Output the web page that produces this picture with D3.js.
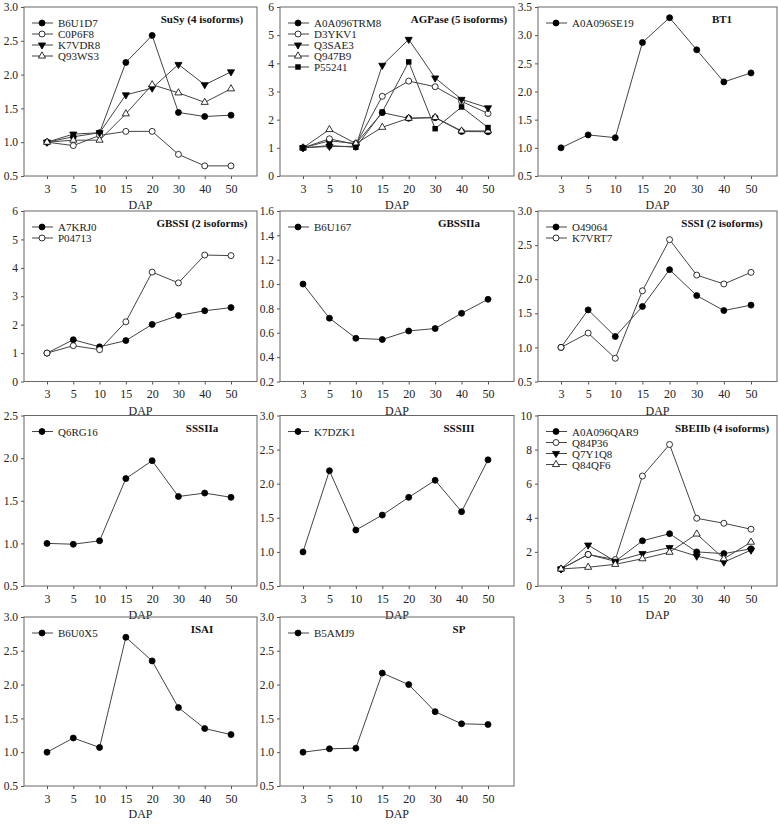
<!DOCTYPE html>
<html>
<head>
<meta charset="utf-8">
<script src="https://cdn.jsdelivr.net/npm/d3@7"></script>
<style>
    body { margin: 0; background: #fff; }
    text { font-family: "Liberation Serif", "Times New Roman", serif; }
</style>
</head>
<body>
<script>
// Days after pollination, shared x categories for every panel
var days = ["3", "5", "10", "15", "20", "30", "40", "50"];

// SuSy
var B6U1D7 = [1.0, 1.08, 1.14, 2.18, 2.58, 1.44, 1.38, 1.40];
var C0P6F8 = [1.0, 0.95, 1.10, 1.16, 1.16, 0.82, 0.65, 0.65];
var K7VDR8 = [1.0, 1.12, 1.14, 1.70, 1.80, 2.15, 1.85, 2.04];
var Q93WS3 = [1.0, 1.03, 1.03, 1.42, 1.85, 1.73, 1.59, 1.79];
// AGPase
var A0A096TRM8 = [1.0, 1.25, 1.15, 2.25, 2.05, 2.07, 1.58, 1.57];
var D3YKV1 = [1.0, 1.32, 1.12, 2.83, 3.37, 3.17, 2.65, 2.22];
var Q3SAE3 = [1.0, 1.05, 1.05, 3.93, 4.85, 3.48, 2.72, 2.42];
var Q947B9 = [1.0, 1.65, 1.15, 1.73, 2.05, 2.08, 1.60, 1.60];
var P55241 = [1.0, 1.08, 1.02, 2.27, 4.05, 1.68, 2.45, 1.72];
// BT1
var A0A096SE19 = [1.0, 1.23, 1.18, 2.87, 3.31, 2.74, 2.17, 2.33];
// GBSSI
var A7KRJ0 = [1.0, 1.47, 1.22, 1.44, 2.01, 2.32, 2.49, 2.60];
var P04713 = [1.0, 1.26, 1.12, 2.10, 3.85, 3.47, 4.45, 4.43];
// GBSSIIa
var B6U167 = [1.0, 0.72, 0.555, 0.545, 0.615, 0.635, 0.76, 0.875];
// SSSI
var O49064 = [1.0, 1.55, 1.16, 1.60, 2.14, 1.76, 1.54, 1.62];
var K7VRT7 = [1.0, 1.21, 0.84, 1.83, 2.58, 2.06, 1.93, 2.10];
// SSSIIa
var Q6RG16 = [1.0, 0.99, 1.03, 1.76, 1.97, 1.55, 1.59, 1.54];
// SSSIII
var K7DZK1 = [1.0, 2.19, 1.32, 1.54, 1.80, 2.05, 1.59, 2.35];
// SBEIIb
var A0A096QAR9 = [1.0, 1.85, 1.45, 2.65, 3.07, 2.00, 1.90, 2.18];
var Q84P36 = [1.0, 1.85, 1.55, 6.45, 8.30, 3.97, 3.68, 3.33];
var Q7Y1Q8 = [1.0, 2.40, 1.45, 1.90, 2.25, 1.75, 1.40, 2.10];
var Q84QF6 = [1.0, 1.10, 1.27, 1.60, 1.98, 3.05, 1.60, 2.57];
// ISAI
var B6U0X5 = [1.0, 1.21, 1.07, 2.70, 2.35, 1.66, 1.35, 1.26];
// SP
var B5AMJ9 = [1.0, 1.05, 1.06, 2.17, 2.00, 1.60, 1.42, 1.41];

// Y tick labels of each panel
var ticksHalf = [0.5, 1.0, 1.5, 2.0, 2.5, 3.0];
var ticksBT1 = [0.5, 1.0, 1.5, 2.0, 2.5, 3.0, 3.5];
var ticksSix = [0, 1, 2, 3, 4, 5, 6];
var ticksGBSSIIa = [0.2, 0.4, 0.6, 0.8, 1.0, 1.2, 1.4, 1.6];
var ticksSSSIIa = [0.5, 1.0, 1.5, 2.0, 2.5];
var ticksTen = [0, 2, 4, 6, 8, 10];

// Panels: title, y ticks and series (name, values, marker)
var panels = [
    {title: "SuSy (4 isoforms)", ticks: ticksHalf, series: [
        ["B6U1D7", B6U1D7, "dot"], ["C0P6F8", C0P6F8, "ring"],
        ["K7VDR8", K7VDR8, "down"], ["Q93WS3", Q93WS3, "up"]]},
    {title: "AGPase (5 isoforms)", ticks: ticksSix, series: [
        ["A0A096TRM8", A0A096TRM8, "dot"], ["D3YKV1", D3YKV1, "ring"],
        ["Q3SAE3", Q3SAE3, "down"], ["Q947B9", Q947B9, "up"],
        ["P55241", P55241, "square"]]},
    {title: "BT1", ticks: ticksBT1, series: [
        ["A0A096SE19", A0A096SE19, "dot"]]},
    {title: "GBSSI (2 isoforms)", ticks: ticksSix, series: [
        ["A7KRJ0", A7KRJ0, "dot"], ["P04713", P04713, "ring"]]},
    {title: "GBSSIIa", ticks: ticksGBSSIIa, series: [
        ["B6U167", B6U167, "dot"]]},
    {title: "SSSI (2 isoforms)", ticks: ticksHalf, series: [
        ["O49064", O49064, "dot"], ["K7VRT7", K7VRT7, "ring"]]},
    {title: "SSSIIa", ticks: ticksSSSIIa, series: [
        ["Q6RG16", Q6RG16, "dot"]]},
    {title: "SSSIII", ticks: ticksHalf, series: [
        ["K7DZK1", K7DZK1, "dot"]]},
    {title: "SBEIIb (4 isoforms)", ticks: ticksTen, series: [
        ["A0A096QAR9", A0A096QAR9, "dot"], ["Q84P36", Q84P36, "ring"],
        ["Q7Y1Q8", Q7Y1Q8, "down"], ["Q84QF6", Q84QF6, "up"]]},
    {title: "ISAI", ticks: ticksHalf, series: [
        ["B6U0X5", B6U0X5, "dot"]]},
    {title: "SP", ticks: ticksHalf, series: [
        ["B5AMJ9", B5AMJ9, "dot"]]}
];

// Frame positions of the 3 x 4 grid
var cols = [{x0: 24, x1: 257}, {x0: 280, x1: 514}, {x0: 538, x1: 777}];
var rows = [{y0: 7, y1: 176}, {y0: 211, y1: 381.5},
            {y0: 415.5, y1: 586}, {y0: 617, y1: 786}];

var svg = d3.select("body").append("svg")
    .attr("width", 778)
    .attr("height", 824);

// draw one marker at (0,0) into group g
function marker(g, kind) {
    if (kind === "dot" || kind === "ring") {
        g.append("circle")
            .attr("r", 3)
            .attr("fill", kind === "dot" ? "#000" : "#fff")
            .attr("stroke", "#000")
            .attr("stroke-width", 0.8);
    } else if (kind === "square") {
        g.append("path")
            .attr("d", d3.symbol().type(d3.symbolSquare).size(30)())
            .attr("fill", "#000");
    } else {
        g.append("path")
            .attr("d", d3.symbol().type(d3.symbolTriangle).size(22)())
            .attr("transform", kind === "down" ? "rotate(180)" : null)
            .attr("fill", kind === "down" ? "#000" : "#fff")
            .attr("stroke", "#000")
            .attr("stroke-width", 0.8);
    }
}

panels.forEach(function(p, i) {
    var c = cols[i % 3], r = rows[Math.floor(i / 3)];
    var lastRow = Math.floor(i / 3) === rows.length - 1;
    var ext = d3.extent(p.ticks);

    var x = d3.scalePoint().domain(days).range([c.x0 + 23, c.x1 - 26]);
    var y = d3.scaleLinear().domain(ext).range([r.y1, r.y0]);
    var whole = p.ticks.every(function(t) { return Number.isInteger(t); });
    var fmt = whole ? d3.format("d") : d3.format(".1f");

    var g = svg.append("g");

    // x axis
    g.append("g")
        .attr("transform", "translate(0," + r.y1 + ")")
        .call(d3.axisBottom(x).tickSize(3).tickPadding(5))
        .call(function(a) { a.select(".domain").remove(); })
        .selectAll("text")
        .attr("font-size", "12px")
        .attr("fill", "#222");

    // y axis
    g.append("g")
        .attr("transform", "translate(" + c.x0 + ",0)")
        .call(d3.axisLeft(y).tickValues(p.ticks).tickFormat(fmt)
            .tickSize(3).tickPadding(3))
        .call(function(a) { a.select(".domain").remove(); })
        .selectAll("text")
        .attr("font-size", "11.5px")
        .attr("fill", "#222");

    g.selectAll(".tick line").attr("stroke", "#555");

    // frame round the plot area
    g.append("rect")
        .attr("x", c.x0).attr("y", r.y0)
        .attr("width", c.x1 - c.x0).attr("height", r.y1 - r.y0)
        .attr("fill", "none")
        .attr("stroke", "#666")
        .attr("stroke-width", 1);

    // x axis title
    g.append("text")
        .attr("x", (c.x0 + c.x1) / 2)
        .attr("y", r.y1 + (lastRow ? 32 : 33))
        .attr("text-anchor", "middle")
        .attr("font-size", "12px")
        .attr("fill", "#222")
        .text("DAP");

    // title
    g.append("text")
        .attr("x", c.x1 - 55)
        .attr("y", r.y0 + 16)
        .attr("text-anchor", "middle")
        .attr("font-size", "11px")
        .attr("font-weight", "bold")
        .attr("fill", "#111")
        .text(p.title);

    var line = d3.line()
        .x(function(d, k) { return x(days[k]); })
        .y(function(d) { return y(d); });

    p.series.forEach(function(s, k) {
        g.append("path")
            .attr("d", line(s[1]))
            .attr("fill", "none")
            .attr("stroke", "#444")
            .attr("stroke-width", 1);

        s[1].forEach(function(v, j) {
            var m = g.append("g")
                .attr("transform", "translate(" + x(days[j]) + "," + y(v) + ")");
            marker(m, s[2]);
        });

        // legend row
        var ly = r.y0 + 16 + k * 11;
        g.append("line")
            .attr("x1", c.x0 + 8).attr("x2", c.x0 + 29)
            .attr("y1", ly).attr("y2", ly)
            .attr("stroke", "#444");
        var lm = g.append("g")
            .attr("transform", "translate(" + (c.x0 + 18) + "," + ly + ")");
        marker(lm, s[2]);
        g.append("text")
            .attr("x", c.x0 + 34)
            .attr("y", ly + 4)
            .attr("font-size", "11px")
            .attr("fill", "#222")
            .text(s[0]);
    });
});
</script>
</body>
</html>
